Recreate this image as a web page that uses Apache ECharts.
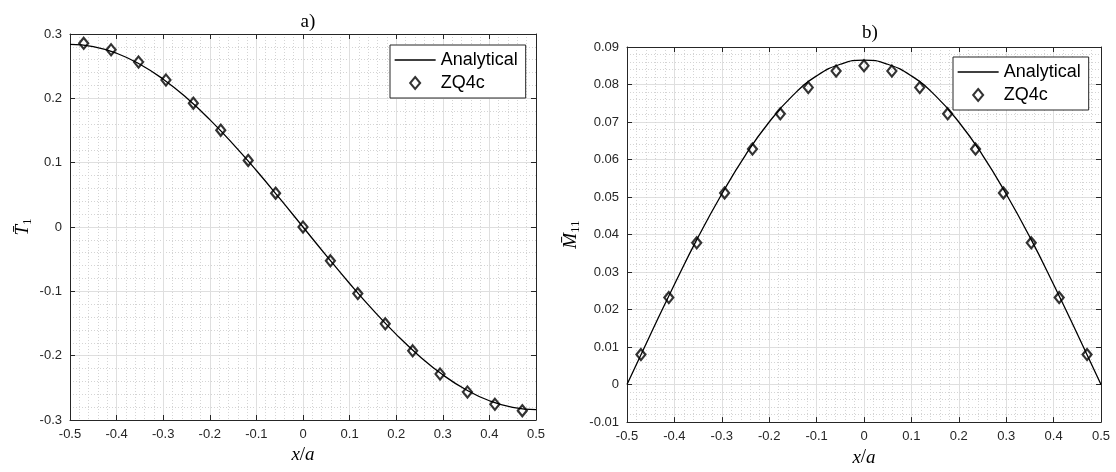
<!DOCTYPE html>
<html>
<head>
<meta charset="utf-8">
<script src="https://cdn.jsdelivr.net/npm/echarts@6/dist/echarts.min.js"></script>
<style>html,body{margin:0;padding:0;background:#fff;}#c{width:1116px;height:472px;}</style>
</head>
<body>
<div id="c"></div>
<script>
// ---- data ----
const xCurve = [-0.5,-0.45,-0.4,-0.35,-0.3,-0.25,-0.2,-0.15,-0.1,-0.05,0,0.05,0.1,0.15,0.2,0.25,0.3,0.35,0.4,0.45,0.5];
const t1Curve = [0.2840,0.2805,0.2701,0.2530,0.2298,0.2008,0.1669,0.1289,0.0878,0.0444,0,-0.0444,-0.0878,-0.1289,-0.1669,-0.2008,-0.2298,-0.2530,-0.2701,-0.2805,-0.2840];
const m11Curve = [0,0.0135,0.0267,0.0393,0.0508,0.0612,0.0700,0.0771,0.0823,0.0854,0.0865,0.0854,0.0823,0.0771,0.0700,0.0612,0.0508,0.0393,0.0267,0.0135,0];
const xMarkers = [-0.4706,-0.4118,-0.3529,-0.2941,-0.2353,-0.1765,-0.1176,-0.0588,0,0.0588,0.1176,0.1765,0.2353,0.2941,0.3529,0.4118,0.4706];
const t1Markers = [0.2855,0.2755,0.2565,0.2285,0.1925,0.1505,0.1035,0.0525,0,-0.0525,-0.1035,-0.1505,-0.1925,-0.2285,-0.2565,-0.2755,-0.2855];
const m11Markers = [0.0080,0.0232,0.0378,0.0511,0.0628,0.0722,0.0792,0.0836,0.0850,0.0836,0.0792,0.0722,0.0628,0.0511,0.0378,0.0232,0.0080];
const xTickLabels = ['-0.5','-0.4','-0.3','-0.2','-0.1','0','0.1','0.2','0.3','0.4','0.5'];
const t1TickLabels = ['-0.3','-0.2','-0.1','0','0.1','0.2','0.3'];
const m11TickLabels = ['-0.01','0','0.01','0.02','0.03','0.04','0.05','0.06','0.07','0.08','0.09'];
const seriesNames = ['Analytical','ZQ4c'];
const panelTitles = ['a)','b)'];

// ---- helpers ----
const zip = (a,b) => a.map((v,i)=>[v,b[i]]);
const AX = '#262626';
const fmt = (labels,min,interval) => v => labels[Math.round((v-min)/interval)];
const serifRich = {
  i:{fontFamily:'Liberation Serif',fontStyle:'italic',fontSize:19,color:'#000',lineHeight:22,verticalAlign:'middle'},
  n:{fontFamily:'Liberation Serif',fontSize:19,color:'#000',lineHeight:22,verticalAlign:'middle'},
  s:{fontFamily:'Liberation Serif',fontSize:13,color:'#000',lineHeight:22,verticalAlign:'bottom'}
};
function mainAxis(min,max,interval,labels,extra){
  return Object.assign({
    type:'value',min:min,max:max,interval:interval,
    axisLine:{show:true,onZero:false,lineStyle:{color:AX,width:1}},
    axisTick:{show:true,inside:true,length:5,lineStyle:{color:AX}},
    axisLabel:{color:AX,fontFamily:'Liberation Sans',fontSize:13,formatter:fmt(labels,min,interval)},
    splitLine:{show:true,lineStyle:{color:'#dfdfdf',width:1}},
    minorTick:{show:false,splitNumber:5},
    minorSplitLine:{show:true,lineStyle:{color:'#d4d4d4',type:[1,2],width:1}},
    nameLocation:'middle',nameTextStyle:{rich:serifRich}
  },extra||{});
}
function boxAxis(min,max,interval,pos,grid){
  return {type:'value',gridIndex:grid,position:pos,min:min,max:max,interval:interval,
    axisLine:{show:true,onZero:false,lineStyle:{color:AX,width:1}},
    axisTick:{show:true,inside:true,length:5,lineStyle:{color:AX}},
    axisLabel:{show:false},splitLine:{show:false}};
}
const legendCommon = {
  orient:'vertical',itemWidth:41,itemHeight:12,itemGap:5,
  padding:[6,8,6,4],borderColor:AX,borderWidth:1,backgroundColor:'#fff',
  textStyle:{fontFamily:'Liberation Sans',fontSize:18,color:'#000'},
  symbolKeepAspect:true,
  data:[
    {name:seriesNames[0],itemStyle:{color:'rgba(0,0,0,0)',borderWidth:0,opacity:0},lineStyle:{color:'#000',width:1.3}},
    {name:seriesNames[1],icon:'path://M5,0 L10,6 L5,12 L0,6 Z'}
  ]
};
const lineStyle = {color:'#000',width:1.3};
const markerStyle = {color:'rgba(255,255,255,0)',borderColor:'#000',borderWidth:2.2};

const option = {
  animation:false,
  backgroundColor:'#fff',
  title:[
    {text:panelTitles[0],left:303,top:8,textAlign:'center',textStyle:{fontFamily:'Liberation Serif',fontWeight:'normal',fontSize:19,color:'#000'}},
    {text:panelTitles[1],left:865,top:19,textAlign:'center',textStyle:{fontFamily:'Liberation Serif',fontWeight:'normal',fontSize:19,color:'#000'}}
  ],
  legend:[
    Object.assign({left:390,top:45},legendCommon),
    Object.assign({left:953,top:57},legendCommon)
  ],
  grid:[
    {left:70,top:34,width:466,height:386},
    {left:627,top:47,width:474,height:393}
  ],
  xAxis:[
    mainAxis(-0.5,0.5,0.1,xTickLabels,{gridIndex:0,position:'bottom',name:'{i|x}{n|/}{i|a}',nameGap:24}),
    mainAxis(-0.5,0.5,0.1,xTickLabels,{gridIndex:1,position:'bottom',name:'{i|x}{n|/}{i|a}',nameGap:12}),
    boxAxis(-0.5,0.5,0.1,'top',0),
    boxAxis(-0.5,0.5,0.1,'top',1)
  ],
  yAxis:[
    mainAxis(-0.3,0.3,0.1,t1TickLabels,{gridIndex:0,position:'left',name:'{i|T\u0304}{s|1}',nameGap:36,nameRotate:90}),
    mainAxis(-0.01,0.09,0.01,m11TickLabels,{gridIndex:1,position:'left',name:'{i|M\u0304}{s|11}',nameGap:45,nameRotate:90}),
    boxAxis(-0.3,0.3,0.1,'right',0),
    boxAxis(-0.01,0.09,0.01,'right',1)
  ],
  series:[
    {name:seriesNames[0],type:'line',xAxisIndex:0,yAxisIndex:0,data:zip(xCurve,t1Curve),symbol:'none',smooth:true,lineStyle:lineStyle,itemStyle:{color:'#000'},z:2},
    {name:seriesNames[1],type:'scatter',xAxisIndex:0,yAxisIndex:0,data:zip(xMarkers,t1Markers),symbol:'diamond',symbolSize:[9,11],itemStyle:markerStyle,z:3},
    {name:seriesNames[0],type:'line',xAxisIndex:1,yAxisIndex:1,data:zip(xCurve,m11Curve),symbol:'none',smooth:true,lineStyle:lineStyle,itemStyle:{color:'#000'},z:2},
    {name:seriesNames[1],type:'scatter',xAxisIndex:1,yAxisIndex:1,data:zip(xMarkers,m11Markers),symbol:'diamond',symbolSize:[9,11],itemStyle:markerStyle,z:3}
  ]
};
const chart = echarts.init(document.getElementById('c'),null,{renderer:'canvas'});
chart.setOption(option);
</script>
</body>
</html>
